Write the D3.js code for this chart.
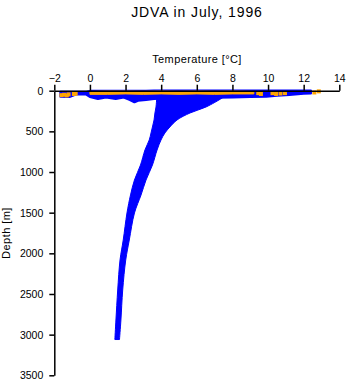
<!DOCTYPE html>
<html>
<head>
<meta charset="utf-8">
<script src="https://cdn.jsdelivr.net/npm/d3@7"></script>
<style>
  html, body { margin: 0; padding: 0; background: #fff; }
  svg { display: block; }
  text { font-family: "Liberation Sans", Arial, Helvetica, sans-serif; fill: #000; }
</style>
</head>
<body>
<svg id="chart" width="348" height="384"></svg>
<script>
// ---- data ----
const xTicks = [-2, 0, 2, 4, 6, 8, 10, 12, 14];
const yTicks = [0, 500, 1000, 1500, 2000, 2500, 3000, 3500];

// deep part of the blue profile cloud: depth [m], coldest and warmest temperature [°C]
const deepDepth = [60, 90, 200, 274, 360, 446, 520, 606, 729, 914, 1098, 1282, 1504, 1836, 2082, 2451, 2820, 3060];
const deepTmin  = [3.8, 3.76, 3.71, 3.65, 3.60, 3.51, 3.43, 3.33, 3.09, 2.84, 2.50, 2.28, 2.08, 1.87, 1.69, 1.56, 1.46, 1.40];
const deepTmax  = [7.6, 7.42, 6.52, 5.62, 4.89, 4.49, 4.21, 3.99, 3.77, 3.51, 3.15, 2.87, 2.50, 2.21, 2.01, 1.84, 1.74, 1.66];

// blue surface layer: temperature [°C], shallowest and deepest depth [m]
const surfT   = [-1.65, -1.15, -0.8, -0.2, 0, 0.45, 0.9, 1.45, 1.9, 2.25, 2.5, 2.7, 3.15, 3.6, 5, 7, 8, 9, 9.9, 10.5, 11.2, 12, 12.4];
const surfTop = [15, 15, 15, 15, 5, 5, 5, 5, 5, 5, 5, 5, 5, 0, 0, 0, 0, 0, 0, 0, 0, 0, 0];
const surfBot = [72, 75, 45, 45, 75, 100, 82, 100, 82, 112, 140, 122, 110, 100, 90, 85, 80, 75, 70, 60, 50, 35, 30];

// orange surface observations: band
const orangeT   = [0, 1, 2, 3, 4, 5, 6, 7, 8, 9.2];
const orangeTop = [10, 5, 5, 8, 5, 8, 5, 8, 5, 10];
const orangeBot = [45, 45, 40, 45, 40, 45, 40, 45, 40, 40];
// orange surface observations: single points
const orangePtT = [-1.6, -1.45, -1.3, -1.2, -0.9, -0.8, 9.45, 9.6, 10.25, 10.45, 10.7, 10.95, 12.6, 12.85];
const orangePtD = [55, 50, 58, 45, 40, 35, 30, 40, 30, 40, 35, 30, 22, 8];

// ---- drawing ----
const svg = d3.select("#chart");
const x = d3.scaleLinear().domain([-2, 14]).range([54.3, 339.3]);
const y = d3.scaleLinear().domain([0, 3500]).range([90.7, 375.3]);
const blue = "#0000ff", orange = "#ffa500";

const deep = deepDepth.map((d, i) => ({d, lo: deepTmin[i], hi: deepTmax[i]}));
svg.append("path").datum(deep)
  .attr("d", d3.area().curve(d3.curveCatmullRom).y(p => y(p.d)).x0(p => x(p.lo)).x1(p => x(p.hi)))
  .attr("fill", blue).attr("stroke", blue).attr("stroke-width", 1).attr("stroke-linejoin", "round");

const surf = surfT.map((t, i) => ({t, a: surfTop[i], b: surfBot[i]}));
svg.append("path").datum(surf)
  .attr("d", d3.area().x(p => x(p.t)).y0(p => y(p.a)).y1(p => y(p.b)))
  .attr("fill", blue).attr("stroke", blue).attr("stroke-width", 2.5).attr("stroke-linejoin", "round");

const ob = orangeT.map((t, i) => ({t, a: orangeTop[i], b: orangeBot[i]}));
svg.append("path").datum(ob)
  .attr("d", d3.area().x(p => x(p.t)).y0(p => y(p.a)).y1(p => y(p.b)))
  .attr("fill", orange).attr("stroke", orange).attr("stroke-width", 1);

svg.append("g").selectAll("rect").data(orangePtT.map((t, i) => ({t, d: orangePtD[i]})))
  .join("rect")
  .attr("x", p => x(p.t) - 2).attr("y", p => y(p.d) - 2)
  .attr("width", 4).attr("height", 4).attr("fill", orange);

// axes
const fmt = d3.format("d");
const xAxis = svg.append("g").attr("transform", `translate(0,${y(0)})`)
  .call(d3.axisTop(x).tickValues(xTicks).tickFormat(fmt).tickSize(6).tickPadding(3).tickSizeOuter(0));
const yAxis = svg.append("g").attr("transform", `translate(${x(-2)},0)`)
  .call(d3.axisLeft(y).tickValues(yTicks).tickFormat(fmt).tickSize(5).tickPadding(6).tickSizeOuter(0));
[xAxis, yAxis].forEach(g => {
  g.select(".domain").attr("stroke", "#000").attr("stroke-width", 1.5);
  g.selectAll(".tick line").attr("stroke", "#000").attr("stroke-width", 1.5);
  g.selectAll(".tick text").attr("font-size", 10.5).attr("font-family", "Liberation Sans, Arial, sans-serif").attr("fill", "#000");
});

svg.append("text").attr("x", 197).attr("y", 63).attr("text-anchor", "middle")
  .attr("font-size", 11).attr("letter-spacing", 0.4).text("Temperature [°C]");
svg.append("text").attr("transform", `translate(9.5,233) rotate(-90)`).attr("text-anchor", "middle")
  .attr("font-size", 11).attr("letter-spacing", 0.45).text("Depth [m]");
svg.append("text").attr("x", 197).attr("y", 16.5).attr("text-anchor", "middle")
  .attr("font-size", 14).attr("letter-spacing", 0.9).text("JDVA in July, 1996");
</script>
</body>
</html>
